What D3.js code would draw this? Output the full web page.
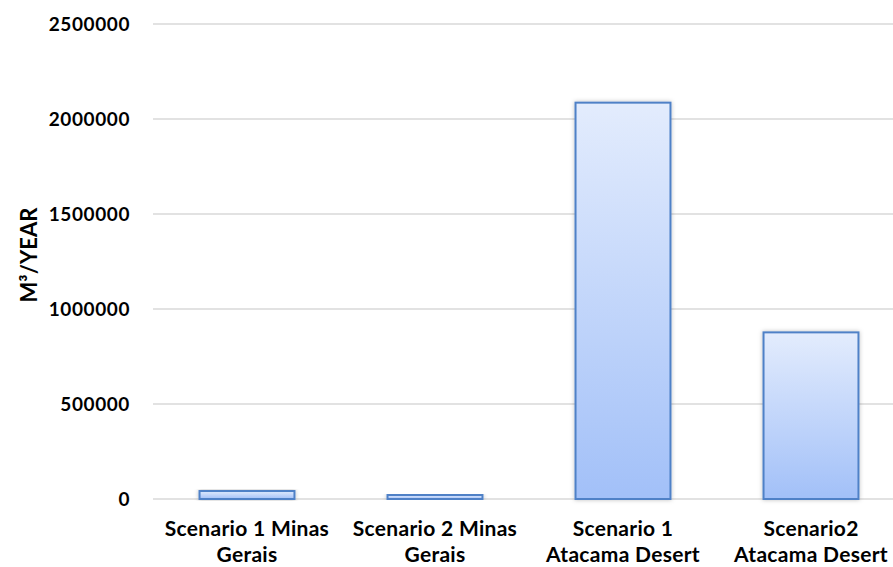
<!DOCTYPE html>
<html>
<head>
<meta charset="utf-8">
<script src="https://cdn.jsdelivr.net/npm/d3@7"></script>
<style>
  body { margin: 0; background: #fff; }
  svg { display: block; font-family: Lato, "Open Sans", sans-serif; }
</style>
</head>
<body>
<div id="chart"></div>
<script>
// data
const categories = [
  "Scenario 1 Minas Gerais",
  "Scenario 2 Minas Gerais",
  "Scenario 1 Atacama Desert",
  "Scenario2 Atacama Desert"
];
const labelLines = [
  ["Scenario 1 Minas", "Gerais"],
  ["Scenario 2 Minas", "Gerais"],
  ["Scenario 1", "Atacama Desert"],
  ["Scenario2", "Atacama Desert"]
];
const values = [42000, 21000, 2086000, 877000];
const yTicks = [0, 500000, 1000000, 1500000, 2000000, 2500000];
const yTitle = "M³/YEAR";

const w = 893, h = 567;
const plotLeft = 153, plotBottom = 499, plotTop = 24;

const svg = d3.select("#chart")
  .append("svg")
  .attr("width", w)
  .attr("height", h);

const defs = svg.append("defs");
const grad = defs.append("linearGradient")
  .attr("id", "barGrad")
  .attr("x1", 0).attr("y1", 0)
  .attr("x2", 0).attr("y2", 1);
grad.append("stop").attr("offset", "0%").attr("stop-color", "#e3ecfd");
grad.append("stop").attr("offset", "100%").attr("stop-color", "#a2c0f8");

const shadow = defs.append("filter")
  .attr("id", "shadow")
  .attr("x", "-20%").attr("y", "-20%")
  .attr("width", "140%").attr("height", "140%");
shadow.append("feDropShadow")
  .attr("dx", 0).attr("dy", 0)
  .attr("stdDeviation", 2)
  .attr("flood-color", "#000")
  .attr("flood-opacity", 0.25);

const x = d3.scaleBand()
  .domain(categories)
  .range([plotLeft, plotLeft + 752])
  .paddingInner(0.495)
  .paddingOuter(0.2475);

const y = d3.scaleLinear()
  .domain([0, 2500000])
  .range([plotBottom, plotTop]);

// gridlines
svg.append("g")
  .selectAll("line")
  .data(yTicks)
  .enter()
  .append("line")
  .attr("x1", plotLeft)
  .attr("x2", w)
  .attr("y1", d => y(d))
  .attr("y2", d => y(d))
  .attr("stroke", "#d9d9d9")
  .attr("stroke-width", 1.5);

// y axis labels
const yAxis = d3.axisLeft(y)
  .tickValues(yTicks)
  .tickFormat(d3.format("d"))
  .tickSize(0)
  .tickPadding(23);

svg.append("g")
  .attr("transform", "translate(" + plotLeft + ",0)")
  .call(yAxis)
  .call(g => g.select(".domain").remove())
  .selectAll("text")
  .attr("font-family", "Lato, 'Open Sans', sans-serif")
  .attr("font-weight", "bold")
  .attr("font-size", 19)
  .attr("letter-spacing", 0.6)
  .attr("fill", "#000");

// bars
svg.append("g")
  .selectAll("rect")
  .data(values)
  .enter()
  .append("rect")
  .attr("x", (d, i) => x(categories[i]))
  .attr("y", d => y(d))
  .attr("width", x.bandwidth())
  .attr("height", d => y(0) - y(d))
  .attr("fill", "url(#barGrad)")
  .attr("stroke", "#4f81c7")
  .attr("stroke-width", 2)
  .attr("filter", "url(#shadow)");

// x axis labels
const xLabels = svg.append("g")
  .selectAll("text")
  .data(labelLines)
  .enter()
  .append("text")
  .attr("text-anchor", "middle")
  .attr("font-weight", "bold")
  .attr("font-size", 21)
  .attr("letter-spacing", 0.3)
  .attr("fill", "#000");

xLabels.selectAll("tspan")
  .data((d, i) => d.map(line => ({ line: line, i: i })))
  .enter()
  .append("tspan")
  .attr("x", d => x(categories[d.i]) + x.bandwidth() / 2)
  .attr("y", (d, j) => 536 + j * 26)
  .text(d => d.line);

// y title
svg.append("text")
  .attr("transform", "translate(37,255) rotate(-90)")
  .attr("text-anchor", "middle")
  .attr("font-weight", "bold")
  .attr("font-size", 22)
  .attr("fill", "#000")
  .text(yTitle);
</script>
</body>
</html>
